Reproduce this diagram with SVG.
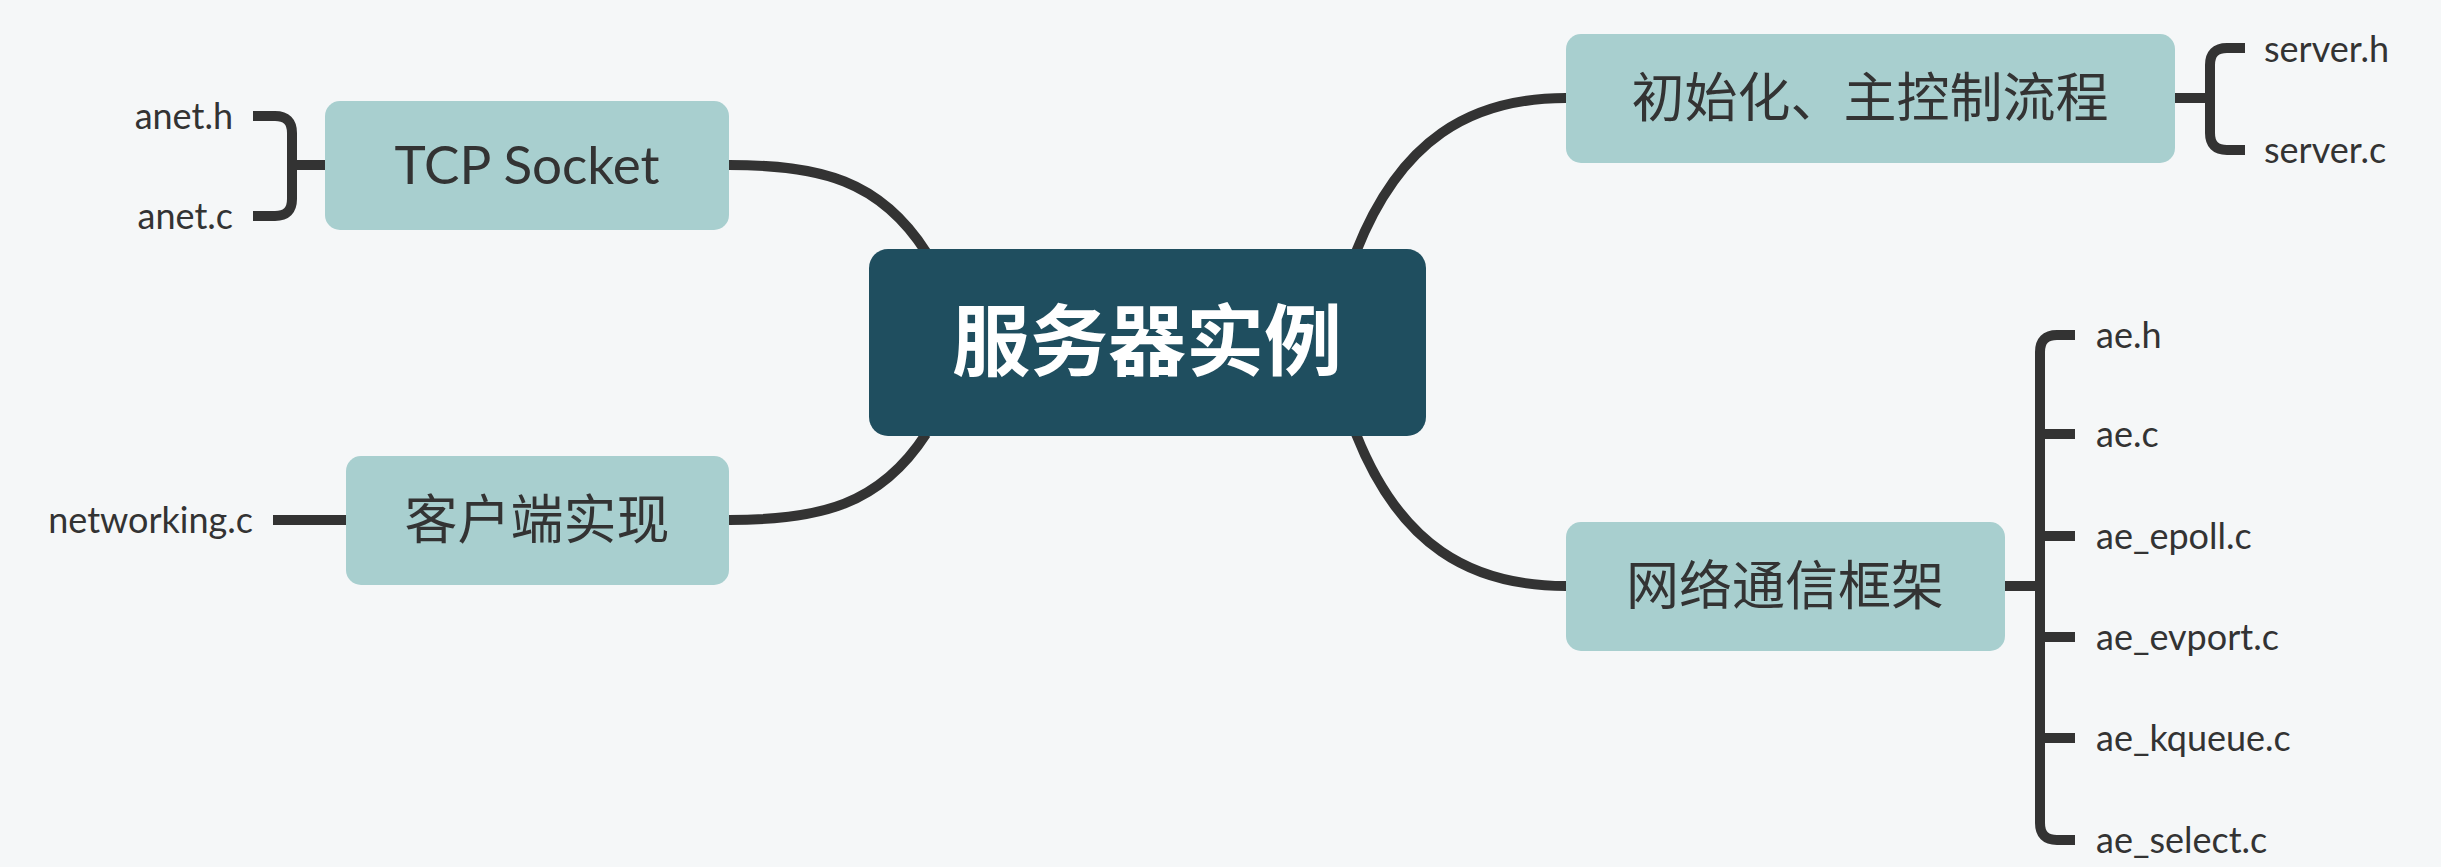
<svg xmlns="http://www.w3.org/2000/svg" width="2441" height="867" viewBox="0 0 2441 867">
<style>
.n{fill:#a8cfcf}
.t{font-family:Lato,"Noto Sans CJK SC",sans-serif;fill:#333;font-size:53px}
.l{font-family:Lato,"Noto Sans CJK SC",sans-serif;fill:#333;font-size:36px}
.c{fill:none;stroke:#333;stroke-width:10;stroke-linecap:butt;stroke-linejoin:round}
</style>
<rect width="2441" height="867" fill="#f5f7f8"/>
<g id="connectors">
<path class="c" d="M926 252 C880 180 820 165 729 165"/>
<path class="c" d="M926 434 C880 505 820 520 729 520"/>
<path class="c" d="M1356 252 C1400 140 1470 98 1566 98"/>
<path class="c" d="M1356 434 C1400 545 1470 586 1566 586"/>
<path class="c" d="M325 165 H292 M253 116 H275 Q292 116 292 133 V199 Q292 216 275 216 H253"/>
<path class="c" d="M273 520 H346"/>
<path class="c" d="M2175 98 H2210 M2245 48 H2227 Q2210 48 2210 65 V133 Q2210 150 2227 150 H2245"/>
<path class="c" d="M2005 586 H2040 M2075 335 H2057 Q2040 335 2040 352 V823 Q2040 840 2057 840 H2075 M2040 434 Q2040 434 2075 434 M2040 536 H2075 M2040 637 H2075 M2040 738 H2075"/>
</g>
<g id="center"><rect x="869" y="249" width="557" height="187" rx="19" fill="#1f4e5f"/><text x="1147" y="370" text-anchor="middle" font-family="Lato,'Noto Sans CJK SC',sans-serif" font-size="78" font-weight="bold" fill="#fff">服务器实例</text></g>
<g id="tcp"><rect class="n" x="325" y="101" width="404" height="129" rx="15"/><text class="t" x="527" y="184" text-anchor="middle">TCP Socket</text></g>
<g id="client"><rect class="n" x="346" y="456" width="383" height="129" rx="15"/><text class="t" x="537" y="539" text-anchor="middle">客户端实现</text></g>
<g id="init"><rect class="n" x="1566" y="34" width="609" height="129" rx="15"/><text class="t" x="1870" y="117" text-anchor="middle">初始化、主控制流程</text></g>
<g id="net"><rect class="n" x="1566" y="522" width="439" height="129" rx="15"/><text class="t" x="1785" y="605" text-anchor="middle">网络通信框架</text></g>
<g id="leaves">
<text class="l" x="233" y="129" text-anchor="end">anet.h</text>
<text class="l" x="233" y="229" text-anchor="end">anet.c</text>
<text class="l" x="253" y="533" text-anchor="end">networking.c</text>
<text class="l" x="2264" y="62">server.h</text>
<text class="l" x="2264" y="163">server.c</text>
<text class="l" x="2096" y="348">ae.h</text>
<text class="l" x="2096" y="447">ae.c</text>
<text class="l" x="2096" y="549">ae_epoll.c</text>
<text class="l" x="2096" y="650">ae_evport.c</text>
<text class="l" x="2096" y="751">ae_kqueue.c</text>
<text class="l" x="2096" y="853">ae_select.c</text>
</g>
</svg>
